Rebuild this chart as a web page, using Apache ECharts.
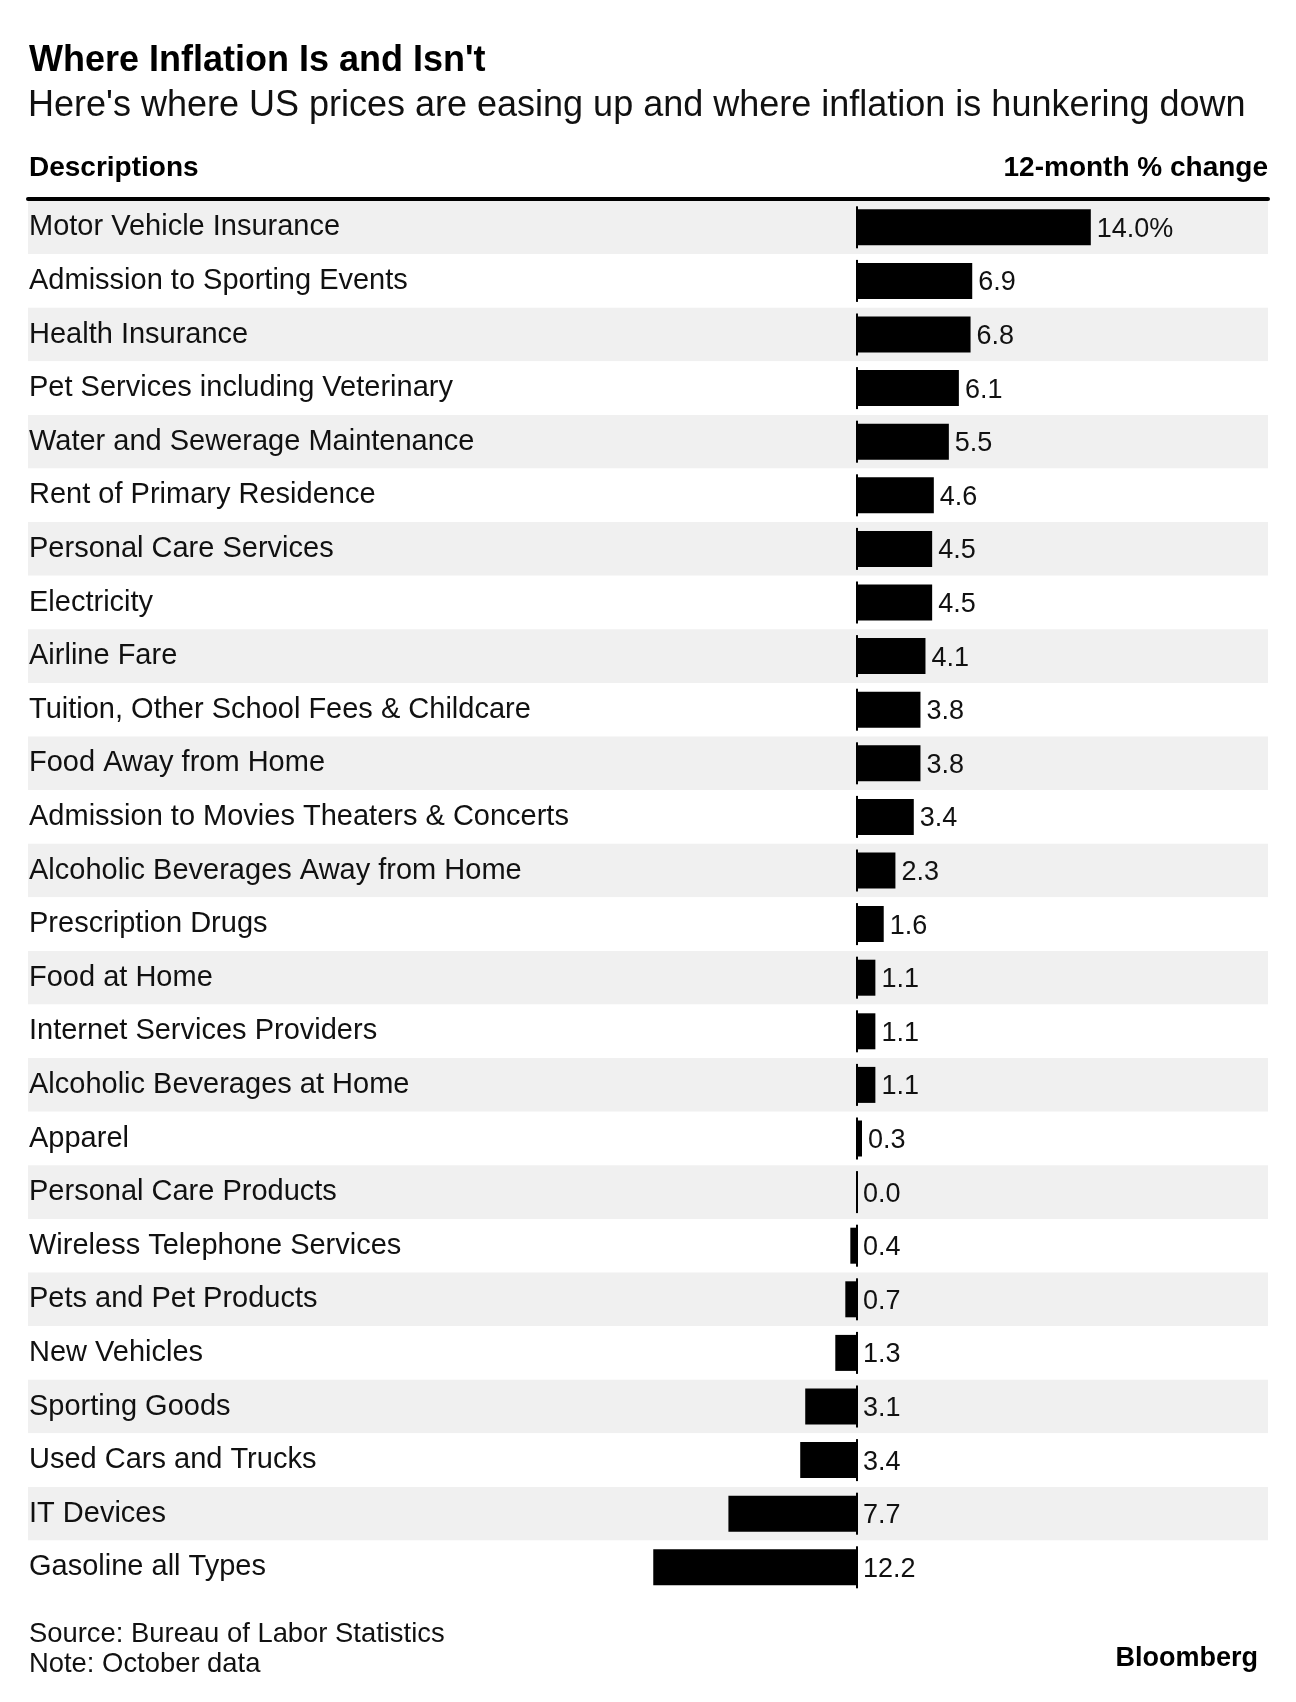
<!DOCTYPE html>
<html>
<head>
<meta charset="utf-8">
<script src="https://cdn.jsdelivr.net/npm/echarts@6/dist/echarts.min.js"></script>
<style>
html,body{margin:0;padding:0;background:#fff;}
#chart{width:1296px;height:1702px;}
</style>
</head>
<body>
<div id="chart"></div>
<script>
const titleText = "Where Inflation Is and Isn't";
const subtitleText = "Here's where US prices are easing up and where inflation is hunkering down";
const leftHeader = "Descriptions";
const rightHeader = "12-month % change";
const sourceText = "Source: Bureau of Labor Statistics";
const noteText = "Note: October data";
const brandText = "Bloomberg";

const categories = [
  "Motor Vehicle Insurance",
  "Admission to Sporting Events",
  "Health Insurance",
  "Pet Services including Veterinary",
  "Water and Sewerage Maintenance",
  "Rent of Primary Residence",
  "Personal Care Services",
  "Electricity",
  "Airline Fare",
  "Tuition, Other School Fees & Childcare",
  "Food Away from Home",
  "Admission to Movies Theaters & Concerts",
  "Alcoholic Beverages Away from Home",
  "Prescription Drugs",
  "Food at Home",
  "Internet Services Providers",
  "Alcoholic Beverages at Home",
  "Apparel",
  "Personal Care Products",
  "Wireless Telephone Services",
  "Pets and Pet Products",
  "New Vehicles",
  "Sporting Goods",
  "Used Cars and Trucks",
  "IT Devices",
  "Gasoline all Types"
];

const changes = [14.0, 6.9, 6.8, 6.1, 5.5, 4.6, 4.5, 4.5, 4.1, 3.8, 3.8, 3.4, 2.3, 1.6, 1.1, 1.1, 1.1, 0.3, 0.0, -0.4, -0.7, -1.3, -3.1, -3.4, -7.7, -12.2];

const FONT = "'Liberation Sans', Arial, Helvetica, sans-serif";
const chart = echarts.init(document.getElementById('chart'), null, {renderer: 'canvas'});

const option = {
  backgroundColor: '#ffffff',
  animation: false,
  grid: {left: 28, right: 28, top: 200.5, height: 26 * 53.6, containLabel: false},
  xAxis: {
    type: 'value',
    position: 'top',
    offset: 2,
    min: -49.64,
    max: 24.61,
    axisLine: {show: true, onZero: false, lineStyle: {color: '#000', width: 4}},
    axisTick: {show: false},
    axisLabel: {show: false},
    splitLine: {show: false}
  },
  yAxis: {
    type: 'category',
    inverse: true,
    data: categories,
    axisLine: {show: false},
    axisTick: {show: false},
    splitLine: {show: false},
    splitArea: {show: true, areaStyle: {color: ['#f0f0f0', '#ffffff']}},
    axisLabel: {
      inside: true,
      margin: 1,
      color: '#111',
      fontFamily: FONT,
      fontSize: 29,
      padding: [0, 0, 5, 0]
    }
  },
  graphic: [
    {type: 'text', left: 29, top: 43, style: {text: titleText, font: 'bold 36px ' + FONT, fill: '#000'}},
    {type: 'text', left: 28, top: 88, style: {text: subtitleText, font: '36px ' + FONT, fill: '#111'}},
    {type: 'text', left: 29, top: 154, style: {text: leftHeader, font: 'bold 28px ' + FONT, fill: '#000'}},
    {type: 'text', right: 28, top: 154, style: {text: rightHeader, font: 'bold 28px ' + FONT, fill: '#000'}},
    {type: 'text', left: 29, top: 1621, style: {text: sourceText, font: '27.4px ' + FONT, fill: '#111'}},
    {type: 'text', left: 29, top: 1651, style: {text: noteText, font: '27.4px ' + FONT, fill: '#111'}},
    {type: 'text', right: 38, top: 1645, style: {text: brandText, font: 'bold 27px ' + FONT, fill: '#000'}}
  ],
  series: [
    {
      type: 'bar',
      data: changes,
      barWidth: 36,
      itemStyle: {color: '#000'},
      label: {
        show: true,
        position: 'right',
        distance: 6,
        offset: [0, 2],
        color: '#111',
        fontFamily: FONT,
        fontSize: 27,
        formatter: function (p) {
          return Math.abs(p.value).toFixed(1) + (p.dataIndex === 0 ? '%' : '');
        }
      },
      z: 3
    },
    {
      type: 'custom',
      data: categories.map(function (c, i) { return [0, i]; }),
      encode: {x: 0, y: 1},
      renderItem: function (params, api) {
        const p = api.coord([api.value(0), api.value(1)]);
        return {
          type: 'line',
          shape: {x1: p[0], y1: p[1] - 21, x2: p[0], y2: p[1] + 21},
          style: {stroke: '#000', lineWidth: 2}
        };
      },
      z: 4,
      silent: true
    }
  ]
};
chart.setOption(option);
</script>
</body>
</html>
